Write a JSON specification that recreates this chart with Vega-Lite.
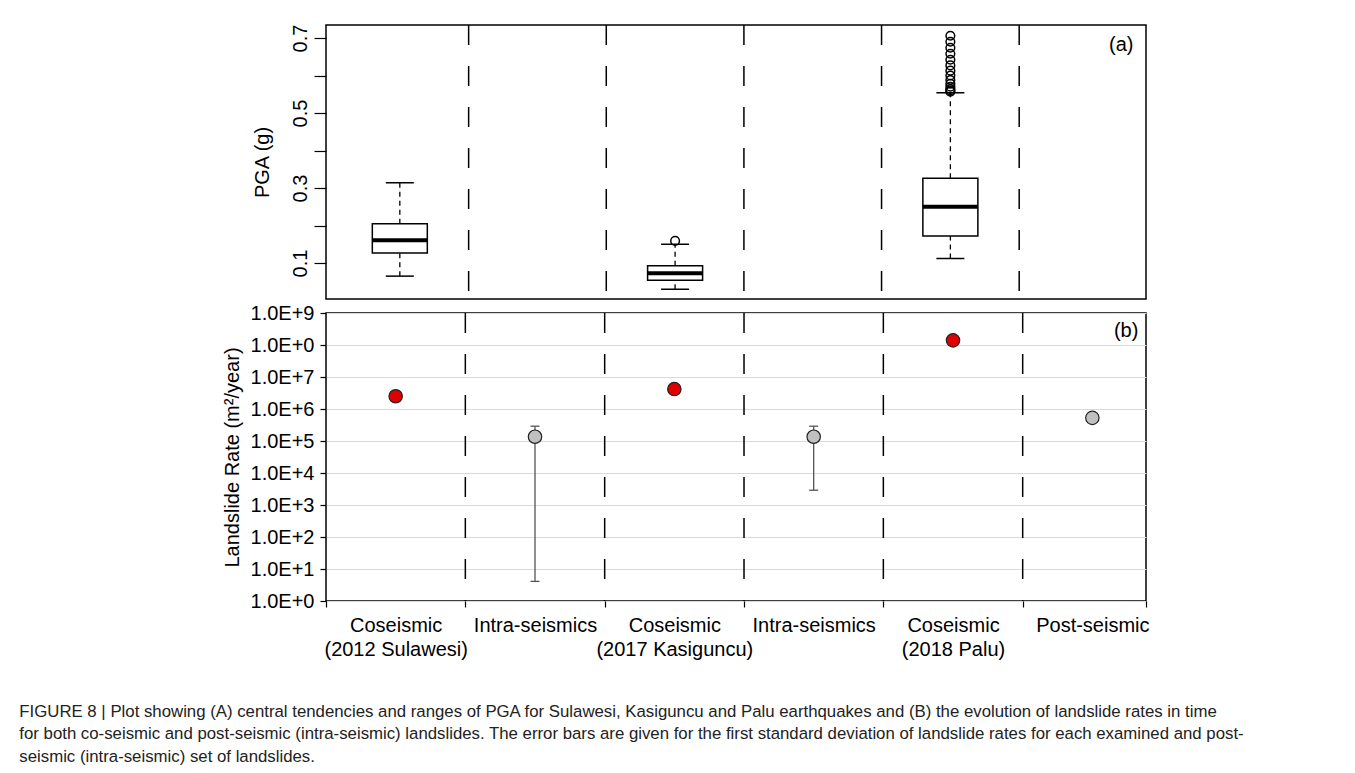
{
  "$schema": "https://vega.github.io/schema/vega-lite/v6.json",
  "padding": {"left": 19, "top": 23, "right": 10, "bottom": 5},
  "background": "white",
  "bounds": "flush",
  "config": {
    "font": "Liberation Sans",
    "view": {"stroke": "black", "strokeWidth": 1.5},
    "axis": {
      "labelFont": "Liberation Sans", "titleFont": "Liberation Sans",
      "labelColor": "black", "titleColor": "black", "tickColor": "black",
      "domainColor": "black", "labelFontSize": 20, "titleFontSize": 20,
      "titleFontWeight": "normal", "tickWidth": 1.2
    }
  },
  "datasets": {
    "boxes": [
      {"pos": 1, "lo": 0.065, "q1": 0.127, "med": 0.161, "q3": 0.205, "hi": 0.314},
      {"pos": 3, "lo": 0.030, "q1": 0.054, "med": 0.0725, "q3": 0.093, "hi": 0.150},
      {"pos": 5, "lo": 0.112, "q1": 0.172, "med": 0.250, "q3": 0.326, "hi": 0.554}
    ],
    "outliers": [
      {"pos": 3, "v": 0.159},
      {"pos": 5, "v": 0.557}, {"pos": 5, "v": 0.560}, {"pos": 5, "v": 0.564},
      {"pos": 5, "v": 0.570}, {"pos": 5, "v": 0.578}, {"pos": 5, "v": 0.588},
      {"pos": 5, "v": 0.600}, {"pos": 5, "v": 0.613}, {"pos": 5, "v": 0.627},
      {"pos": 5, "v": 0.642}, {"pos": 5, "v": 0.658}, {"pos": 5, "v": 0.674},
      {"pos": 5, "v": 0.690}, {"pos": 5, "v": 0.706}
    ],
    "separators": [{"pos": 1.5}, {"pos": 2.5}, {"pos": 3.5}, {"pos": 4.5}, {"pos": 5.5}],
    "rates": [
      {"pos": 1, "phase": "Coseismic", "rate": 2500000},
      {"pos": 2, "phase": "Intra-seismic", "rate": 136000, "lo": 4.1, "hi": 290000},
      {"pos": 3, "phase": "Coseismic", "rate": 4200000},
      {"pos": 4, "phase": "Intra-seismic", "rate": 136000, "lo": 2900, "hi": 290000},
      {"pos": 5, "phase": "Coseismic", "rate": 140000000},
      {"pos": 6, "phase": "Post-seismic", "rate": 530000}
    ],
    "labelA": [{"pos": 6.33, "v": 0.681, "label": "(a)"}],
    "labelB": [{"pos": 6.33, "v": 270000000, "label": "(b)"}]
  },
  "title": {
    "text": [
      "FIGURE 8 | Plot showing (A) central tendencies and ranges of PGA for Sulawesi, Kasiguncu and Palu earthquakes and (B) the evolution of landslide rates in time",
      "for both co-seismic and post-seismic (intra-seismic) landslides. The error bars are given for the first standard deviation of landslide rates for each examined and post-",
      "seismic (intra-seismic) set of landslides."
    ],
    "orient": "bottom", "anchor": "start", "font": "Liberation Sans",
    "fontSize": 16.8, "fontWeight": "normal", "color": "#222", "lineHeight": 22.5,
    "offset": 44, "dx": -202
  },
  "spacing": 14,
  "vconcat": [
    {
      "width": 820, "height": 274,
      "encoding": {
        "x": {"field": "pos", "type": "quantitative", "scale": {"domain": [0.5, 6.385], "nice": false, "zero": false}, "axis": null}
      },
      "layer": [
        {
          "data": {"name": "separators"},
          "mark": {"type": "rule", "strokeDash": [20, 21], "strokeWidth": 1.5, "color": "black"},
          "encoding": {}
        },
        {
          "data": {"name": "boxes"},
          "mark": {"type": "rule", "strokeDash": [5, 4], "strokeWidth": 1.3, "color": "black"},
          "encoding": {
            "y": {"field": "q3", "type": "quantitative", "scale": {"domain": [0.004, 0.7347], "nice": false, "zero": false},
              "axis": {
                "values": [0.1, 0.2, 0.3, 0.4, 0.5, 0.6, 0.7],
                "labelExpr": "round(datum.value * 10) % 2 == 1 ? format(datum.value, '.1f') : ''",
                "labelAngle": -90, "labelAlign": "center", "labelBaseline": "bottom",
                "labelOverlap": false, "labelFlush": false,
                "tickSize": 12, "labelPadding": 4, "domain": false, "grid": false,
                "title": "PGA (g)", "titlePadding": 18
              }},
            "y2": {"field": "hi"}
          }
        },
        {
          "data": {"name": "boxes"},
          "mark": {"type": "rule", "strokeDash": [5, 4], "strokeWidth": 1.3, "color": "black"},
          "encoding": {
            "y": {"field": "lo", "type": "quantitative", "scale": {"domain": [0.004, 0.7347], "nice": false, "zero": false}},
            "y2": {"field": "q1"}
          }
        },
        {
          "data": {"name": "boxes"},
          "mark": {"type": "tick", "orient": "horizontal", "size": 28, "thickness": 1.5, "color": "black", "opacity": 1},
          "encoding": {
            "y": {"field": "hi", "type": "quantitative", "scale": {"domain": [0.004, 0.7347], "nice": false, "zero": false}}
          }
        },
        {
          "data": {"name": "boxes"},
          "mark": {"type": "tick", "orient": "horizontal", "size": 28, "thickness": 1.5, "color": "black", "opacity": 1},
          "encoding": {
            "y": {"field": "lo", "type": "quantitative", "scale": {"domain": [0.004, 0.7347], "nice": false, "zero": false}}
          }
        },
        {
          "data": {"name": "boxes"},
          "mark": {"type": "bar", "size": 55, "fill": "white", "stroke": "black", "strokeWidth": 1.5, "opacity": 1},
          "encoding": {
            "y": {"field": "q1", "type": "quantitative", "scale": {"domain": [0.004, 0.7347], "nice": false, "zero": false}},
            "y2": {"field": "q3"}
          }
        },
        {
          "data": {"name": "boxes"},
          "mark": {"type": "tick", "orient": "horizontal", "size": 55, "thickness": 4, "color": "black", "opacity": 1},
          "encoding": {
            "y": {"field": "med", "type": "quantitative", "scale": {"domain": [0.004, 0.7347], "nice": false, "zero": false}}
          }
        },
        {
          "data": {"name": "outliers"},
          "mark": {"type": "point", "shape": "circle", "filled": false, "size": 75, "stroke": "black", "strokeWidth": 1.5, "opacity": 1},
          "encoding": {
            "y": {"field": "v", "type": "quantitative", "scale": {"domain": [0.004, 0.7347], "nice": false, "zero": false}}
          }
        },
        {
          "data": {"name": "labelA"},
          "mark": {"type": "text", "align": "right", "baseline": "middle", "fontSize": 20, "font": "Liberation Sans", "color": "black"},
          "encoding": {
            "y": {"field": "v", "type": "quantitative", "scale": {"domain": [0.004, 0.7347], "nice": false, "zero": false}},
            "text": {"field": "label"}
          }
        }
      ]
    },
    {
      "width": 820, "height": 288,
      "encoding": {
        "x": {"field": "pos", "type": "quantitative", "scale": {"domain": [0.5, 6.385], "nice": false, "zero": false},
          "axis": {
            "values": [0.5, 1, 1.5, 2, 2.5, 3, 3.5, 4, 4.5, 5, 5.5, 6, 6.385],
            "labelExpr": "datum.value == 1 ? ['Coseismic', '(2012 Sulawesi)'] : datum.value == 2 ? 'Intra-seismics' : datum.value == 3 ? ['Coseismic', '(2017 Kasiguncu)'] : datum.value == 4 ? 'Intra-seismics' : datum.value == 5 ? ['Coseismic', '(2018 Palu)'] : datum.value == 6 ? 'Post-seismic' : ''",
            "tickOpacity": {"condition": {"test": "datum.value % 1 == 0", "value": 0}, "value": 1},
            "tickSize": 6, "labelPadding": 8, "labelLineHeight": 24,
            "labelOverlap": false, "labelFlush": false, "labelBound": false,
            "domain": false, "grid": false, "title": null
          }}
      },
      "layer": [
        {
          "data": {"name": "separators"},
          "mark": {"type": "rule", "strokeDash": [20, 21], "strokeWidth": 1.5, "color": "black"},
          "encoding": {}
        },
        {
          "data": {"name": "rates"},
          "mark": {"type": "rule", "strokeWidth": 1.3, "color": "#555555"},
          "encoding": {
            "y": {"field": "lo", "type": "quantitative",
              "scale": {"type": "log", "domain": [1, 1000000000], "nice": false},
              "axis": {
                "values": [1, 10, 100, 1000, 10000, 100000, 1000000, 10000000, 100000000, 1000000000],
                "labelExpr": "datum.value == 100000000 ? '1.0E+0' : '1.0E+' + round(log(datum.value) / LN10)",
                "labelOverlap": false, "labelFlush": false,
                "tickSize": 6, "labelPadding": 6, "domain": false,
                "grid": true, "gridColor": "#dadada", "gridWidth": 1.2,
                "title": "Landslide Rate (m²/year)", "titlePadding": 8
              }},
            "y2": {"field": "hi"}
          }
        },
        {
          "data": {"name": "rates"},
          "mark": {"type": "tick", "orient": "horizontal", "size": 9, "thickness": 1.3, "color": "#555555", "opacity": 1},
          "encoding": {
            "y": {"field": "hi", "type": "quantitative", "scale": {"type": "log", "domain": [1, 1000000000], "nice": false}}
          }
        },
        {
          "data": {"name": "rates"},
          "mark": {"type": "tick", "orient": "horizontal", "size": 9, "thickness": 1.3, "color": "#555555", "opacity": 1},
          "encoding": {
            "y": {"field": "lo", "type": "quantitative", "scale": {"type": "log", "domain": [1, 1000000000], "nice": false}}
          }
        },
        {
          "data": {"name": "rates"},
          "mark": {"type": "point", "shape": "circle", "filled": true, "size": 180, "stroke": "#222222", "strokeWidth": 1.2, "opacity": 1},
          "encoding": {
            "y": {"field": "rate", "type": "quantitative", "scale": {"type": "log", "domain": [1, 1000000000], "nice": false}},
            "color": {"field": "phase", "type": "nominal",
              "scale": {"domain": ["Coseismic", "Intra-seismic", "Post-seismic"], "range": ["#e00000", "#c0c0c0", "#c0c0c0"]},
              "legend": null}
          }
        },
        {
          "data": {"name": "labelB"},
          "mark": {"type": "text", "align": "right", "baseline": "middle", "fontSize": 20, "font": "Liberation Sans", "color": "black"},
          "encoding": {
            "y": {"field": "v", "type": "quantitative", "scale": {"type": "log", "domain": [1, 1000000000], "nice": false}},
            "text": {"field": "label"}
          }
        }
      ]
    }
  ]
}
